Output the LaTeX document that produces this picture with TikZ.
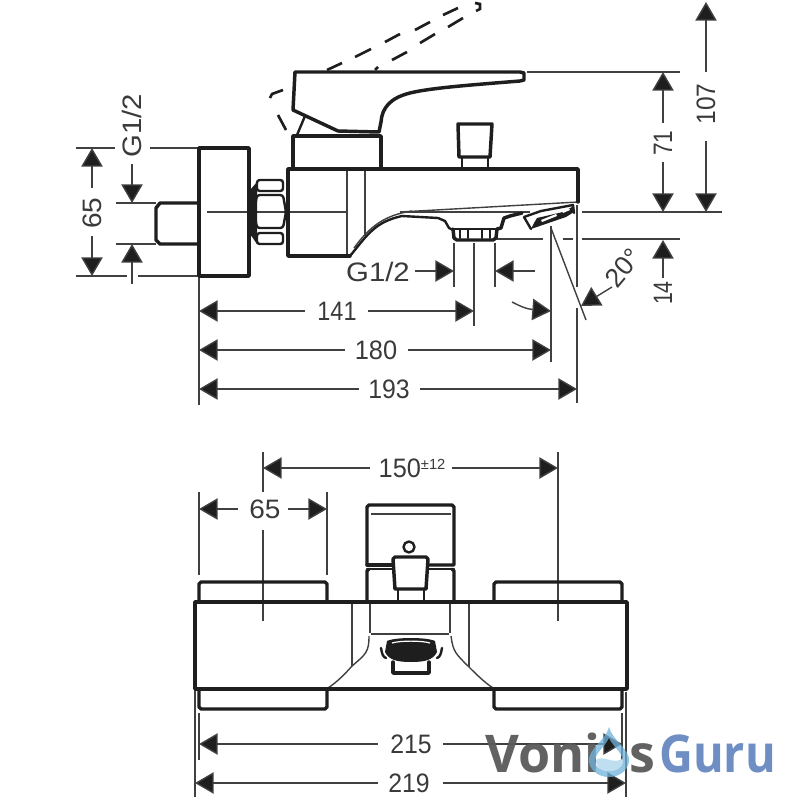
\documentclass[tikz,border=0pt]{standalone}
\usepackage{graphicx}
\usepackage{fontspec}
\setmainfont{Liberation Sans}
\newfontfamily\wmfont{Open Sans}
\usetikzlibrary{arrows.meta}
\definecolor{ink}{HTML}{1E1E1E}
\definecolor{txt}{HTML}{3A3A3A}
\definecolor{wmgray}{HTML}{5A5A5A}
\definecolor{wmblue}{HTML}{6F8FC4}
\definecolor{dropblue}{HTML}{6FB4DC}
\newcommand\narr[2]{\scalebox{#1}[1]{#2}}
\tikzset{
  obj/.style={draw=ink,line width=2.6pt,line join=round,line cap=round},
  objm/.style={draw=ink,line width=1.8pt,line join=round,line cap=round},
  thinl/.style={draw=ink!85,line width=1.05pt},
  dashl/.style={draw=ink,line width=2pt},
  dimr/.style={draw=ink!85,line width=1.05pt,-{Triangle[length=14pt,width=16pt,fill=ink]}},
  diml/.style={draw=ink!85,line width=1.05pt,{Triangle[length=14pt,width=16pt,fill=ink]}-},
  lbl/.style={font=\fontsize{20}{20}\selectfont,text=txt,inner sep=0pt},
  wm/.style={font=\wmfont\bfseries\fontsize{39}{39}\selectfont,inner sep=0pt,anchor=base west}
}
\begin{document}
\begin{tikzpicture}[x=0.75pt,y=-0.75pt]
\useasboundingbox (0,0) rectangle (800,800);
\fill[white] (0,0) rectangle (800,800);

%% ---- side view: thin lines
\draw[thinl] (207,212) -- (347,212);
\draw[thinl] (347,169) -- (347,256);
\draw[thinl] (365,169) -- (365,236);
\draw[thinl] (582,212) -- (722,212);
\draw[thinl] (400,212) -- (578,202);
\draw[thinl] (400,212) -- (530,212);
\draw[thinl] (527,72) -- (680,72);
\draw[thinl] (497,239) -- (543,239) (563,239) -- (573,239) (582,239) -- (680,239);
\draw[thinl] (76,148) -- (115,148) (150,148) -- (199,148);
\draw[thinl] (76,276) -- (127,276) (138,276) -- (199,276);
\draw[thinl] (116,203) -- (156,203) (116,244) -- (156,244);
\draw[thinl] (199,276) -- (199,405);
\draw[thinl] (454,243) -- (454,287) (495,243) -- (495,287);
\draw[thinl] (474,243) -- (474,326);
\draw[thinl] (551,226) -- (551,362);
\draw[thinl] (577,205) -- (577,287) (577,308) -- (577,403);
\draw[thinl] (551,228) -- (586,320);

%% ---- side view: dashed lever
\draw[dashl] (327,70) -- (342,63) (355,57) -- (371,49) (385,42) -- (400,34) (415,30) -- (430,22) (443,15) -- (458,8);
\draw[dashl] (375,70) -- (378,67) (392,60) -- (407,52) (420,43) -- (435,34) (448,27) -- (463,18);
\draw[dashl] (475,3) -- (480,4) -- (480,9) -- (476,11);
\draw[dashl] (270,98) -- (272,94) -- (283,90);
\draw[dashl] (278,115) -- (286,130);

%% ---- side view: object
\draw[obj] (199,148) rectangle (249,276);
\draw[obj] (199,203) -- (160,203) -- (156,208) -- (156,240) -- (160,244) -- (199,244);
\fill[ink] (250,190) -- (257,182) -- (257,244) -- (250,234) -- cycle;
\draw[objm,rounded corners=2pt] (257,180) rectangle (283,191);
\draw[objm,rounded corners=2pt] (257,195) -- (283,195) -- (286,212) -- (283,228) -- (257,228) -- (254,212) -- cycle;
\draw[objm,rounded corners=2pt] (257,233) rectangle (283,244);
\draw[obj] (578,202) -- (578,169) -- (288,169) -- (288,256) -- (350,256);
\draw[obj] (293,169) -- (293,136) -- (381,136) -- (381,169);
\draw[obj] (295,72) -- (520,72) -- (524,73) -- (524,80) -- (520,81) .. controls (470,85) and (430,88) .. (410,93) .. controls (390,98) and (382,108) .. (381,122) -- (379,132) -- (338,131) -- (293,110) -- cycle;
\draw[objm] (305,116) -- (297,135);
\draw[obj] (459,157) -- (458,124) -- (492,124) -- (490,157) -- cycle;
\draw[objm] (462,157) -- (462,169) (488,157) -- (488,169);
\draw[objm] (350,256) .. controls (368,234) and (375,222) .. (402,216) -- (438,218) -- (445,221) -- (449,228) -- (453,230);
\draw[thinl] (354,248) .. controls (370,226) and (385,215) .. (412,211);
\draw[obj] (453,229) -- (454,238) -- (457,240) -- (493,240) -- (496,238) -- (497,229) -- (501,228) -- (504,218) -- (510,216) -- (522,213);
\draw[objm] (453,229) -- (497,229);
\draw[objm] (460,229) -- (460,238) (468,229) -- (468,238) (482,229) -- (482,238) (490,229) -- (490,238);
\draw[objm] (524,217) -- (531,229) (524,217) -- (541,211) (541,211) -- (573,205) -- (574,213);
\fill[ink] (531,229) -- (566,217) -- (574,212) -- (572,207) -- (563,212) -- (537,218) -- (534,223) -- cycle;
\fill[white] (541,220) -- (556,214) -- (557,216) -- (542,222) -- cycle;
\fill[white] (562,211) -- (569,208.5) -- (570,210) -- (563,213) -- cycle;

%% ---- side view: dimensions
\node[lbl,rotate=90] (d65a) at (92,213) {\narr{1.05}{65}};
\draw[diml] (92,148) -- (92,188);
\draw[dimr] (92,236) -- (92,276);
\node[lbl,rotate=90] (gv) at (132,126) {\narr{1.1}{G1/2}};
\draw[dimr] (132,164) -- (132,203);
\draw[dimr] (132,284) -- (132,244);
\node[lbl,rotate=90] (d71) at (663,143) {\narr{.85}{71}};
\draw[diml] (663,72) -- (663,123);
\draw[dimr] (663,162) -- (663,212);
\node[lbl,rotate=90] (d107) at (706,104) {\narr{.92}{107}};
\draw[diml] (706,2) -- (706,72);
\draw[dimr] (706,141) -- (706,212);
\node[lbl,rotate=90] (d14) at (663,293) {\narr{.8}{14}};
\draw[diml] (663,240) -- (663,278);
\node[lbl] (gh) at (378,272) {\narr{1.1}{G1/2}};
\draw[dimr] (415,271) -- (454,271);
\draw[dimr] (535,271) -- (495,271);
\node[lbl] (d141) at (337,311) {\narr{.88}{141}};
\draw[diml] (199,311) -- (305,311);
\draw[dimr] (368,311) -- (474,311);
\draw[dimr] (512,302) .. controls (520,306) and (526,309) .. (551,311);
\node[lbl] (d180) at (376,350) {\narr{.95}{180}};
\draw[diml] (199,350) -- (345,350);
\draw[dimr] (408,350) -- (551,350);
\node[lbl] (d193) at (389,389) {\narr{.93}{193}};
\draw[diml] (199,389) -- (359,389);
\draw[dimr] (420,389) -- (577,389);
\node[lbl,rotate=50] (d20) at (623,268) {20°};
\draw[dimr] (612,287) -- (581,306);

%% ---- front view: thin lines
\draw[thinl] (263,452) -- (263,492) (263,530) -- (263,621);
\draw[thinl] (558,452) -- (558,621);
\draw[thinl] (199,492) -- (199,575) (327,492) -- (327,575);
\draw[thinl] (199,713) -- (199,760) (622,713) -- (622,760);
\draw[thinl] (195,690) -- (195,797) (626,692) -- (626,797);
\draw[thinl] (352,602) -- (352,666) (469,602) -- (469,667);
\draw[thinl] (370,602) -- (370,633) (450,602) -- (450,633);
\draw[thinl] (371,634) -- (449,634);
\draw[thinl] (369,636) .. controls (369,652) and (366,654) .. (352,666) .. controls (345,674) and (337,682) .. (328,688);
\draw[thinl] (451,636) .. controls (453,652) and (456,654) .. (469,667) .. controls (476,674) and (484,682) .. (493,688);
\draw[thinl] (371,514) -- (451,514);

%% ---- front view: object
\draw[obj] (195,602) rectangle (627,689);
\draw[obj] (199,602) -- (199,584) -- (201,582) -- (325,582) -- (327,584) -- (327,602);
\draw[obj] (494,602) -- (494,584) -- (496,582) -- (620,582) -- (622,584) -- (622,602);
\draw[obj] (199,689) -- (199,707) -- (201,709) -- (325,709) -- (327,707) -- (327,689);
\draw[obj] (494,689) -- (494,707) -- (496,709) -- (620,709) -- (622,707) -- (622,689);
\draw[obj] (367,565) -- (367,507) -- (369,505) -- (452,505) -- (454,507) -- (454,565) -- (428,565);
\draw[obj] (367,565) -- (393,565);
\draw[objm] (367,569) -- (393,569) (428,569) -- (454,569);
\draw[obj] (367,602) -- (367,571) -- (369,569) (454,602) -- (454,571) -- (452,569);
\draw[obj] (395,589) -- (393,559) -- (395,557) -- (426,557) -- (428,559) -- (426,589) -- cycle;
\draw[objm] (398,589) -- (398,602) (424,589) -- (424,602);
\draw[objm] (409,547) circle[radius=5.5];
\fill[ink] (387,641) .. controls (395,637) and (427,637) .. (435,641) -- (437,652) .. controls (433,660) and (425,662) .. (411,662) .. controls (397,662) and (389,660) .. (385,652) -- cycle;
\draw[white,line width=0.9pt] (392,643) .. controls (400,640.5) and (422,640.5) .. (430,643);
\draw[objm] (381,648) .. controls (382,654) and (383,657) .. (386,658);
\draw[objm] (442,648) .. controls (441,654) and (440,657) .. (437,658);
\draw[obj] (393,662) -- (393,673) -- (429,673) -- (429,662);

%% ---- front view: dimensions
\node[lbl] (d150) at (412,468) {\narr{.95}{150}\raisebox{6pt}{\fontsize{11}{11}\selectfont ±12}};
\draw[diml] (263,468) -- (370,468);
\draw[dimr] (452,468) -- (558,468);
\node[lbl] (d65b) at (265,509) {\narr{1.05}{65}};
\draw[diml] (199,509) -- (238,509);
\draw[dimr] (288,509) -- (327,509);
\node[lbl] (d215) at (411,744) {\narr{.93}{215}};
\draw[diml] (199,744) -- (378,744);
\draw[dimr] (443,744) -- (622,744);
\node[lbl] (d219) at (409,783) {\narr{.93}{219}};
\draw[diml] (195,783) -- (378,783);
\draw[dimr] (443,783) -- (626,783);

%% ---- watermark
\node[wm,text=wmgray,opacity=.95] (wma) at (485,772) {Voni};
\fill[dropblue,opacity=.75,even odd rule] (609,727) .. controls (612,740) and (631,750) .. (629,762) .. controls (627,772) and (618,777) .. (609,777) .. controls (600,777) and (591,772) .. (589,762) .. controls (587,750) and (606,740) .. (609,727) -- cycle
 (609,738) .. controls (604,748) and (594,754) .. (595,762) .. controls (596,768) and (602,771) .. (609,771) .. controls (616,771) and (622,768) .. (623,762) .. controls (624,754) and (614,748) .. (609,738) -- cycle;
\fill[dropblue!55,opacity=.8] (596,760) .. controls (604,754) and (614,766) .. (623,758) .. controls (624,768) and (616,771) .. (609,771) .. controls (602,771) and (596,768) .. (596,760) -- cycle;
\node[wm,text=wmgray,opacity=.95] (wms) at (629,772) {s};
\node[wm,text=wmblue] (wmg) at (659,772) {\narr{.9}{Guru}};
\end{tikzpicture}
\end{document}
